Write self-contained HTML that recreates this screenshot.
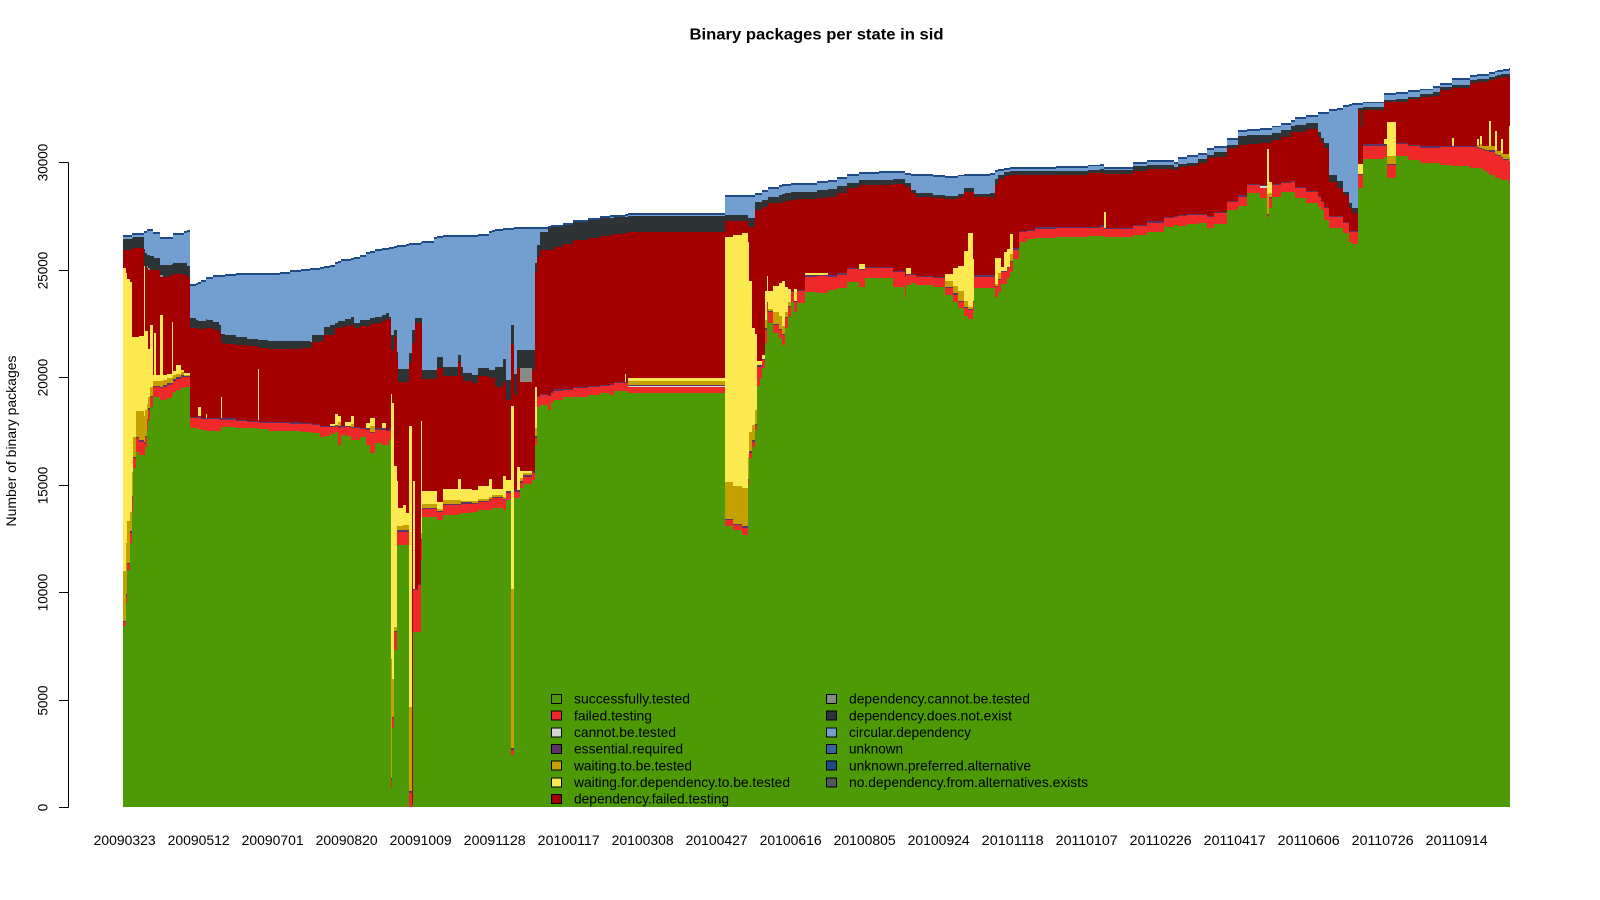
<!DOCTYPE html>
<html lang="en">
<head>
<meta charset="utf-8">
<title>Binary packages per state in sid</title>
<style>
html,body{margin:0;padding:0;background:#fff;width:1600px;height:900px;overflow:hidden}
svg{display:block}
text{font-family:"Liberation Sans",sans-serif;font-size:13.5px;fill:#000}
.lg text{font-size:14px}
</style>
</head>
<body>
<svg id="chart" xmlns="http://www.w3.org/2000/svg" width="1600" height="900" viewBox="0 0 1600 900">
<rect x="0" y="0" width="1600" height="900" fill="#fff"/>
<text x="816.5" y="39.5" text-anchor="middle" textLength="254" lengthAdjust="spacingAndGlyphs" style="font-size:16px;font-weight:bold">Binary packages per state in sid</text>
<text transform="translate(16,441) rotate(-90)" text-anchor="middle" textLength="171" lengthAdjust="spacingAndGlyphs">Number of binary packages</text>
<g id="bars" shape-rendering="crispEdges"></g>
<g id="y-axis"></g>
<g id="x-axis"></g>
<g class="lg">
<g><rect x="551.5" y="694.5" width="10" height="9" fill="#4e9a06" stroke="#000"/><text x="574" y="703.5" textLength="116" lengthAdjust="spacingAndGlyphs">successfully.tested</text></g>
<g><rect x="551.5" y="711" width="10" height="9" fill="#ef2929" stroke="#000"/><text x="574" y="720.5" textLength="78" lengthAdjust="spacingAndGlyphs">failed.testing</text></g>
<g><rect x="551.5" y="728" width="10" height="9" fill="#d3d7cf" stroke="#000"/><text x="574" y="737" textLength="102" lengthAdjust="spacingAndGlyphs">cannot.be.tested</text></g>
<g><rect x="551.5" y="744.5" width="10" height="9" fill="#5c3566" stroke="#000"/><text x="574" y="753.5" textLength="109" lengthAdjust="spacingAndGlyphs">essential.required</text></g>
<g><rect x="551.5" y="761" width="10" height="9" fill="#c4a000" stroke="#000"/><text x="574" y="770.5" textLength="118" lengthAdjust="spacingAndGlyphs">waiting.to.be.tested</text></g>
<g><rect x="551.5" y="778" width="10" height="9" fill="#fce94f" stroke="#000"/><text x="574" y="787" textLength="216" lengthAdjust="spacingAndGlyphs">waiting.for.dependency.to.be.tested</text></g>
<g><rect x="551.5" y="794.5" width="10" height="9" fill="#a40000" stroke="#000"/><text x="574" y="803.5" textLength="155" lengthAdjust="spacingAndGlyphs">dependency.failed.testing</text></g>
<g><rect x="826.5" y="694.5" width="10" height="9" fill="#888a85" stroke="#000"/><text x="849" y="703.5" textLength="181" lengthAdjust="spacingAndGlyphs">dependency.cannot.be.tested</text></g>
<g><rect x="826.5" y="711" width="10" height="9" fill="#2e3436" stroke="#000"/><text x="849" y="720.5" textLength="163" lengthAdjust="spacingAndGlyphs">dependency.does.not.exist</text></g>
<g><rect x="826.5" y="728" width="10" height="9" fill="#729fcf" stroke="#000"/><text x="849" y="737" textLength="122" lengthAdjust="spacingAndGlyphs">circular.dependency</text></g>
<g><rect x="826.5" y="744.5" width="10" height="9" fill="#3465a4" stroke="#000"/><text x="849" y="753.5" textLength="54" lengthAdjust="spacingAndGlyphs">unknown</text></g>
<g><rect x="826.5" y="761" width="10" height="9" fill="#204a87" stroke="#000"/><text x="849" y="770.5" textLength="182" lengthAdjust="spacingAndGlyphs">unknown.preferred.alternative</text></g>
<g><rect x="826.5" y="778" width="10" height="9" fill="#555753" stroke="#000"/><text x="849" y="787" textLength="239" lengthAdjust="spacingAndGlyphs">no.dependency.from.alternatives.exists</text></g>
</g>
</svg>
<script>
const xTickBars = [0,50,100,150,200,250,300,350,400,450,500,550,600,650,700,750,800,850,900];
const xTickLabels = ["20090323","20090512","20090701","20090820","20091009","20091128","20100117","20100308","20100427","20100616","20100805","20100924","20101118","20110107","20110226","20110417","20110606","20110726","20110914"];
const yTicks = [0,5000,10000,15000,20000,25000,30000];
const totalBars = 937;

const sampleBar = [
0,2,3,5,6,7,9,11,14,15,16,17,18,20,21,22,25,27,30,33,34,36,39,41,43,
45,49,51,53,56,57,61,65,66,67,69,76,84,91,92,98,106,113,120,126,128,133,136,140,143,145,147,150,154,156,160,164,167,170,175,178,180,
181,182,183,185,186,189,191,193,195,196,197,199,201,202,210,212,
216,226,228,230,236,240,247,249,251,257,259,262,264,266,268,270,276,278,280,282,287,289,291,297,304,314,322,329,332,339,340,341,
407,412,418,422,423,425,427,428,430,432,434,435,436,439,443,445,447,449,451,453,455,461,469,476,482,489,497,501,511,520,
528,529,532,536,547,555,561,564,568,571,574,575,586,589,591,593,595,597,599,601,605,606,611,616,630,652,660,663,664,682,
692,703,710,713,719,726,732,737,746,753,759,768,773,774,776,782,789,792,799,807,809,811,815,820,824,828,830,834,836,838,
852,854,860,868,876,885,890,898,899,910,915,916,917,918,920,923,924,927,928,931,932,936];

const successfullyTested = [
8418,9488,11023,12279,13674,15767,16511,16372,16372,16744,17534,18000,18604,19069,19069,19069,18930,18930,19023,19162,19302,19395,19488,19534,19534,
17627,17627,17581,17534,17488,17488,17488,17488,17674,17674,17674,17627,17627,17581,17581,17488,17488,17488,17441,17441,17395,17209,17255,17348,17441,16837,17302,17255,17069,17069,17209,16837,16465,16930,16837,16837,17116,
884,3674,7302,12186,12186,12186,12186,0,0,8139,8139,8139,11488,13488,13488,13348,
13581,13627,13674,13674,13720,13813,13813,13906,13906,13813,14279,2419,14372,14372,14837,15023,15209,16837,18604,18697,18465,18837,18930,19069,19069,19162,19255,19162,19348,19348,19348,19255,
13069,12883,12651,14976,16232,16744,17534,19581,19953,20418,21581,22976,22511,22046,21813,21488,22278,22790,23488,23022,23441,23953,23906,24046,24139,24418,24185,24604,24604,24185,
23720,24278,24371,24278,24185,23813,23488,23209,22837,22697,23022,24139,24139,23720,23953,24325,24325,24604,24883,25488,26046,26278,26418,26465,26511,26558,26558,26511,26511,26604,
26744,26976,27069,27022,27115,27162,26929,27115,27767,27953,28557,28325,27441,27860,28372,28604,28604,28325,28092,27906,27767,27301,26929,26929,26697,26278,26185,28790,28790,30139,
30232,29255,30278,30092,29953,29953,29860,29813,29813,29720,29720,29720,29720,29627,29534,29395,29395,29255,29255,29162,29162,29022];

const failedTesting = [
186,326,279,465,744,465,651,605,512,465,465,465,465,465,465,465,558,605,605,512,512,512,512,465,465,
465,465,512,512,558,558,558,512,326,326,326,326,279,326,279,372,372,326,372,372,372,465,419,326,279,791,372,419,558,558,372,698,930,605,698,651,419,
372,465,837,605,605,605,605,651,93,1953,1953,2186,930,372,372,372,
465,419,419,419,372,372,465,465,465,465,326,233,279,279,233,326,326,326,465,465,651,419,419,326,419,372,326,465,372,372,372,279,
279,233,326,233,233,233,233,884,512,372,605,465,512,372,372,465,465,465,465,465,558,698,791,605,605,605,791,465,465,698,
930,465,372,372,419,326,326,279,372,419,465,512,512,465,558,558,558,465,465,419,651,465,372,419,419,372,419,372,372,419,
419,419,372,465,419,372,512,512,372,419,372,465,93,465,558,419,465,465,512,465,372,558,512,512,465,465,558,605,605,605,
512,605,558,651,698,698,837,884,884,977,930,884,884,930,977,1070,1070,1070,1023,1023,930,930];

const cannotBeTested = [
0,0,0,0,0,0,0,0,0,0,0,0,0,0,0,0,0,0,0,0,0,0,0,0,0,
0,0,0,0,0,0,0,0,0,0,0,0,0,0,0,0,0,0,0,0,0,0,0,0,0,0,0,0,0,0,0,0,0,0,0,0,0,
0,0,0,0,0,0,0,0,0,0,0,0,0,0,0,0,
0,0,0,0,0,0,0,0,0,0,0,0,0,0,0,0,0,0,0,0,0,0,0,0,0,0,0,0,0,0,0,47,
0,0,0,0,0,0,0,0,0,0,0,0,0,0,0,0,0,0,0,0,0,0,0,0,0,0,0,0,0,0,
0,0,0,0,0,0,0,0,0,0,0,0,0,0,0,0,0,0,0,0,0,0,0,0,0,0,0,0,0,0,
0,0,0,0,0,0,0,0,0,0,0,93,0,0,0,0,0,0,0,0,0,0,0,0,0,0,0,0,0,0,
0,0,0,0,0,0,0,0,0,0,0,0,0,0,0,0,0,0,0,0,0,0];

const essentialRequired = [
70,70,70,70,70,70,70,70,70,70,70,70,70,70,70,70,70,70,70,70,70,70,70,70,70,
70,70,70,70,70,70,70,70,70,70,70,70,70,70,70,70,70,70,70,70,70,70,70,70,70,70,70,70,70,70,70,70,70,70,70,70,70,
70,70,70,70,70,70,70,70,70,70,70,70,70,70,70,70,
70,70,70,70,70,70,70,70,70,70,70,70,70,70,70,70,70,70,70,70,70,70,70,70,70,70,70,70,70,70,70,70,
70,70,70,70,70,70,70,70,70,70,70,70,70,70,70,70,70,70,70,70,70,70,70,70,70,70,70,70,70,70,
70,70,70,70,70,70,70,70,70,70,70,70,70,70,70,70,70,70,70,70,70,70,70,70,70,70,70,70,70,70,
70,70,70,70,70,70,70,70,70,70,70,70,70,70,70,70,70,70,70,70,70,70,70,70,70,70,70,70,70,70,
70,70,70,70,70,70,70,70,70,70,70,70,70,70,70,70,70,70,70,70,70,70];

const waitingToBeTested = [
2325,2372,1953,930,1116,930,1209,1349,1209,1163,698,558,419,233,233,233,279,233,233,233,186,140,140,47,47,
0,0,0,0,0,0,0,0,0,0,0,0,0,0,0,0,0,0,0,0,0,0,0,0,0,186,0,0,140,0,0,0,279,0,0,0,0,
5580,1767,186,186,186,233,233,3953,0,0,0,0,233,140,140,93,
140,140,47,47,93,93,93,93,93,93,0,7440,0,0,140,93,0,372,0,0,0,0,0,0,0,0,0,0,0,0,0,140,
1721,1767,1767,1023,930,698,605,0,0,0,372,0,93,558,605,372,233,186,0,0,0,0,0,0,0,0,0,0,0,0,
0,0,0,0,0,233,326,419,279,93,0,0,0,93,233,0,0,0,326,0,0,0,0,0,0,0,0,0,0,0,
0,0,0,0,0,0,0,0,0,0,0,0,930,140,0,0,0,0,0,0,0,0,0,0,0,0,0,0,0,0,
0,372,0,0,0,0,0,0,0,0,93,93,186,140,186,186,186,140,186,186,233,233];

const waitingForDependency = [
14090,12602,11253,10695,6278,4650,3441,3534,7022,3720,3395,2232,2883,233,2232,233,3069,233,186,2604,186,419,93,47,47,
0,0,419,0,186,0,0,0,977,0,0,0,0,2418,0,0,0,0,0,0,0,0,0,47,512,279,0,186,372,0,0,233,326,0,233,0,0,
12323,12834,7487,2139,837,930,558,13067,0,5022,0,0,5255,605,605,326,
512,1023,558,558,512,605,837,279,279,977,512,8510,0,1116,326,93,0,1907,0,0,0,0,0,0,0,0,0,0,0,372,0,140,
11393,11672,11904,9998,7022,4557,3581,186,186,186,1395,1209,791,1209,1535,2093,1163,605,0,558,0,93,93,0,0,0,233,0,0,0,
0,279,0,0,0,326,837,1163,2325,3441,1953,0,0,1209,698,186,884,837,884,0,0,0,0,0,0,0,0,744,0,0,
0,0,0,0,0,0,0,0,0,0,0,0,2093,558,0,0,0,0,0,0,0,0,0,0,0,0,0,465,465,0,
279,1581,0,0,0,0,0,372,0,0,279,0,372,0,0,1209,0,884,0,651,0,1442];

const dependencyFailed = [
814,1046,1325,1465,4069,4115,4115,4069,23,2906,2906,3650,2534,4906,2906,4906,1744,4580,4580,2162,4534,4254,4487,4580,4487,
4115,4115,3650,4115,3976,4162,4069,3976,2534,3511,3464,3464,3464,1000,3418,3371,3371,3418,3464,3464,3790,3929,4208,4162,3976,4115,4580,4441,4208,4580,4720,4534,4394,4906,4766,5138,5092,
2023,2441,5975,5603,5882,5743,6115,2906,21413,6394,12346,12113,4534,5231,5231,6208,
5278,5417,5278,5045,4952,5092,4673,5138,4720,4348,3743,2860,4441,4580,4162,4162,4720,5371,6440,6673,6719,6580,6626,6719,6812,6859,6905,6905,6859,6533,6905,6812,
721,628,535,674,2488,4673,5743,7045,7045,6859,3883,3185,4115,3836,3697,3650,3976,4069,4208,4115,4208,3464,3464,3650,3743,3697,3650,3790,3790,4022,
4115,3743,3743,3650,3650,3511,3232,3232,2720,1883,3092,3650,3604,3371,3697,4069,3511,3371,2767,3418,2627,2581,2534,2441,2395,2488,2441,1744,2488,2488,
2441,2209,2116,2209,2209,2348,2674,2534,2441,2348,1837,1930,256,1790,2023,2069,2255,2534,2860,2720,2674,2720,1558,1279,1232,1046,814,2488,1697,1604,
1697,907,1883,2116,2302,2348,2581,2302,2674,2906,2627,2953,2488,2953,2953,1883,3092,2488,3371,2813,3557,2255];

const dependencyCannot = [
0,0,0,0,0,0,0,0,0,0,93,93,0,0,0,0,93,0,0,0,0,0,0,0,0,
0,0,0,0,0,0,0,0,0,0,0,0,0,0,0,0,0,0,0,0,0,0,0,0,0,0,0,0,0,0,0,0,0,0,0,0,0,
0,0,0,0,0,0,0,0,0,0,0,0,0,0,0,0,
0,0,0,0,0,0,0,0,0,0,0,0,0,0,651,651,0,0,0,0,0,0,0,0,0,0,0,0,0,0,0,0,
0,0,0,0,0,0,0,0,0,0,0,0,0,0,0,0,0,0,0,0,0,0,0,0,0,0,0,0,0,0,
0,0,0,0,0,0,0,0,0,0,0,0,0,0,0,0,0,0,0,0,0,0,0,0,0,0,0,0,0,0,
0,0,0,0,0,0,0,0,0,0,0,0,0,0,0,0,0,0,0,0,0,0,0,0,0,0,0,0,0,0,
0,0,0,0,0,0,0,0,0,0,0,0,0,0,0,0,0,0,0,0,0,0];

const dependencyNotExist = [
512,512,512,512,512,512,512,512,744,698,512,605,651,651,558,558,465,558,512,512,512,512,512,558,512,
465,372,372,372,419,372,372,372,419,419,419,372,326,326,372,372,372,372,326,279,326,279,372,465,233,326,279,326,372,233,279,279,279,279,279,279,93,
698,698,326,372,605,605,605,465,605,605,233,233,233,419,419,512,
419,326,419,372,372,372,372,372,930,1070,930,884,977,837,837,837,930,419,558,837,1023,1070,930,884,837,837,837,791,791,744,744,744,
279,279,279,419,419,419,372,372,372,326,326,326,279,279,372,372,372,372,372,372,326,326,372,372,326,233,233,233,233,233,
186,186,140,186,140,140,140,140,186,186,186,140,233,279,186,186,186,186,186,186,186,186,186,186,186,140,186,186,186,233,
186,186,140,140,140,186,140,233,140,419,419,372,372,372,326,326,279,326,279,233,233,233,326,326,140,233,233,93,884,140,
93,93,140,93,140,186,140,140,140,140,140,140,140,140,140,140,140,93,140,186,140,140];

const circularDependency = [
116,116,116,116,163,116,116,116,767,953,1139,1139,1186,1046,1139,1139,1232,1232,1232,1186,1325,1325,1325,1418,1604,
1511,1651,1744,1837,1883,1930,2116,2255,2674,2674,2767,2906,2999,3046,3046,3092,3139,3232,3278,3371,3046,3092,2767,2720,2767,2720,2813,2720,2674,2999,2953,3092,3046,3092,3046,2953,3185,
4022,4022,3836,4906,5696,5696,5743,5045,3976,3976,3418,3418,3464,5929,6115,5557,
6068,5510,6068,6347,6440,6161,6394,6440,6347,6022,6998,4441,6766,5650,5650,5650,5650,1604,767,163,23,23,23,23,23,23,23,70,23,70,70,70,
860,860,860,1000,1000,1000,349,349,349,395,395,395,395,395,395,395,349,349,349,349,349,349,349,349,349,349,302,302,349,302,
395,395,674,814,860,860,860,814,581,581,581,860,860,349,209,209,116,116,116,116,116,116,116,116,163,163,163,70,70,116,
163,163,163,256,302,209,256,209,256,209,209,256,256,256,256,256,209,302,302,860,1139,1372,2999,3325,3976,4534,4813,163,163,163,
256,256,256,256,163,209,116,256,256,163,163,163,163,163,163,163,163,163,163,116,163,209];

const unknownPreferred = [
70,70,70,70,70,70,70,70,70,70,70,70,70,70,70,70,70,70,70,70,70,70,70,70,70,
70,70,70,70,70,70,70,70,70,70,70,70,70,70,70,70,70,70,70,70,70,70,70,70,70,70,70,70,70,70,70,70,70,70,70,70,70,
70,70,70,70,70,70,70,70,70,70,70,70,70,70,70,70,
70,70,70,70,70,70,70,70,70,70,70,70,70,70,70,70,70,70,70,70,70,70,70,70,70,70,70,70,70,70,70,70,
70,70,70,70,70,70,70,70,70,70,70,70,70,70,70,70,70,70,70,70,70,70,70,70,70,70,70,70,70,70,
70,70,70,70,70,70,70,70,70,70,70,70,70,70,70,70,70,70,70,70,70,70,70,70,70,70,70,70,70,70,
70,70,70,70,70,70,70,70,70,70,70,70,70,70,70,70,70,70,70,70,70,70,70,70,70,70,70,70,70,70,
70,70,70,70,70,70,70,70,70,70,70,70,70,70,70,70,70,70,70,70,70,70];

const stackedSeries = [successfullyTested, failedTesting, cannotBeTested, essentialRequired, waitingToBeTested, waitingForDependency, dependencyFailed, dependencyCannot, dependencyNotExist, circularDependency, unknownPreferred];
const seriesKeys = ["successfully-tested","failed-testing","cannot-be-tested","essential-required","waiting-to-be-tested","waiting-for-dependency","dependency-failed-testing","dependency-cannot-be-tested","dependency-does-not-exist","circular-dependency","unknown-preferred-alternative"];
const seriesColors = ["#4e9a06","#ef2929","#d3d7cf","#5c3566","#c4a000","#fce94f","#a40000","#888a85","#2e3436","#729fcf","#204a87"];

const SVG_NS = "http://www.w3.org/2000/svg";
function xScale(bar){ return 123 + bar * 1.4803; }
function yScale(value){ return 807 - value * 0.0215; }
function tickX(bar){ return 124.7 + bar * 1.48; }

const barsGroup = document.getElementById("bars");
for (let i = 0; i < sampleBar.length; i++) {
  const nextBar = i + 1 < sampleBar.length ? sampleBar[i + 1] : totalBars;
  const x0 = Math.round(xScale(sampleBar[i]));
  const x1 = Math.round(xScale(nextBar));
  let base = 0;
  for (let s = 0; s < stackedSeries.length; s++) {
    const value = stackedSeries[s][i] || 0;
    if (value > 0) {
      const yBottom = Math.round(yScale(base));
      const yTop = Math.round(yScale(base + value));
      if (yBottom > yTop) {
        const rect = document.createElementNS(SVG_NS, "rect");
        rect.setAttribute("x", x0);
        rect.setAttribute("y", yTop);
        rect.setAttribute("width", x1 - x0);
        rect.setAttribute("height", yBottom - yTop);
        rect.setAttribute("fill", seriesColors[s]);
        
        
        barsGroup.appendChild(rect);
      }
    }
    base += value;
  }
}

const yAxisGroup = document.getElementById("y-axis");
const yAxisLine = document.createElementNS(SVG_NS, "line");
yAxisLine.setAttribute("x1", 68.5);
yAxisLine.setAttribute("x2", 68.5);
yAxisLine.setAttribute("y1", Math.round(yScale(yTicks[yTicks.length - 1])) + 0.5);
yAxisLine.setAttribute("y2", Math.round(yScale(yTicks[0])) + 0.5);
yAxisLine.setAttribute("stroke", "#000");


yAxisGroup.appendChild(yAxisLine);
for (let i = 0; i < yTicks.length; i++) {
  const py = Math.round(yScale(yTicks[i])) + 0.5;
  const tick = document.createElementNS(SVG_NS, "line");
  tick.setAttribute("x1", 59);
  tick.setAttribute("x2", 68.5);
  tick.setAttribute("y1", py);
  tick.setAttribute("y2", py);
  tick.setAttribute("stroke", "#000");
  
  
  yAxisGroup.appendChild(tick);
  const label = document.createElementNS(SVG_NS, "text");
  label.setAttribute("transform", "translate(47.5," + py + ") rotate(-90)");
  label.setAttribute("text-anchor", "middle");
  label.textContent = String(yTicks[i]);
  
  
  yAxisGroup.appendChild(label);
}

const xAxisGroup = document.getElementById("x-axis");
for (let i = 0; i < xTickBars.length; i++) {
  const label = document.createElementNS(SVG_NS, "text");
  label.setAttribute("x", tickX(xTickBars[i]));
  label.setAttribute("y", 845);
  label.setAttribute("text-anchor", "middle");
  label.setAttribute("textLength", 62);
  label.setAttribute("lengthAdjust", "spacingAndGlyphs");
  label.textContent = xTickLabels[i];
  
  
  xAxisGroup.appendChild(label);
}
</script>
</body>
</html>
